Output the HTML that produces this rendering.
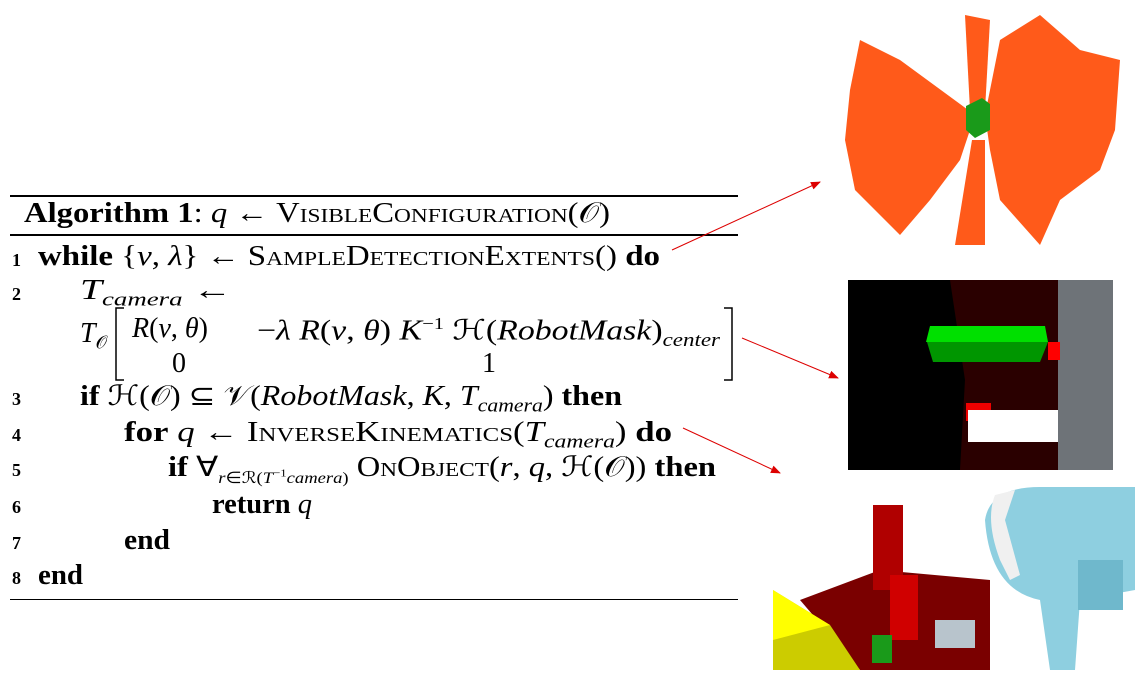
<!DOCTYPE html>
<html><head><meta charset="utf-8"><style>
body{margin:0;width:1139px;height:676px;background:#fff;position:relative;overflow:hidden;font-family:"Liberation Serif",serif;color:#000}
.t{position:absolute;font-size:28px;white-space:nowrap;line-height:1;transform-origin:0 0}
.n{position:absolute;font-size:18px;font-weight:bold;left:12px}
b{font-weight:bold}
i{font-style:italic}
.sc{font-variant:small-caps}
.rule{position:absolute;left:10px;width:728px;background:#000}
</style></head><body>
<div class="rule" style="top:195px;height:2px"></div>
<div class="rule" style="top:234px;height:2px"></div>
<div class="rule" style="top:599px;height:1px"></div>
<div class="t" data-w="610" style="left:24px;top:200px"><b>Algorithm 1</b>: <i>q</i> ← <span class="sc">VisibleConfiguration</span>(𝒪)</div>

<div class="n" style="top:250px">1</div>
<div class="t" data-w="660" style="left:38px;top:243px"><b>while</b> {<i>v</i>, <i>λ</i>} ← <span class="sc">SampleDetectionExtents</span>() <b>do</b></div>
<div class="n" style="top:284px">2</div>
<div class="t" data-w="232" style="left:80px;top:277px"><i>T<sub style="font-size:19px">camera</sub></i> ←</div>
<div class="t" style="left:80px;top:320px"><i>T</i><sub style="font-size:18px">𝒪</sub></div>
<svg style="position:absolute;left:0;top:0" width="740" height="400">
<path d="M124 308 H116 V380 H124" fill="none" stroke="#000" stroke-width="1.5"/>
<path d="M724 308 H732 V380 H724" fill="none" stroke="#000" stroke-width="1.5"/>
</svg>
<div class="t" style="left:132px;top:315px"><i>R</i>(<i>v</i>, <i>θ</i>)</div>
<div class="t" data-w="720" style="left:257px;top:315px">−<i>λ R</i>(<i>v</i>, <i>θ</i>) <i>K</i><sup style="font-size:17px">−1</sup> ℋ(<i>RobotMask</i>)<sub style="font-size:19px"><i>center</i></sub></div>
<div class="t" style="left:172px;top:350px">0</div>
<div class="t" style="left:482px;top:350px">1</div>
<div class="n" style="top:389px">3</div>
<div class="t" data-w="622" style="left:80px;top:383px"><b>if</b> ℋ(𝒪) ⊆ 𝒱(<i>RobotMask</i>, <i>K</i>, <i>T<sub style="font-size:19px">camera</sub></i>) <b>then</b></div>
<div class="n" style="top:425px">4</div>
<div class="t" data-w="672" style="left:124px;top:419px"><b>for</b> <i>q</i> ← <span class="sc">InverseKinematics</span>(<i>T<sub style="font-size:19px">camera</sub></i>) <b>do</b></div>
<div class="n" style="top:460px">5</div>
<div class="t" data-w="716" style="left:168px;top:454px"><b>if</b> ∀<sub style="font-size:16px"><i>r</i>∈ℛ(<i>T</i><sup style="font-size:11px">−1</sup><i>camera</i>)</sub> <span class="sc">OnObject</span>(<i>r</i>, <i>q</i>, ℋ(𝒪)) <b>then</b></div>
<div class="n" style="top:497px">6</div>
<div class="t" data-w="312" style="left:212px;top:491px"><b>return</b> <i>q</i></div>
<div class="n" style="top:533px">7</div>
<div class="t" data-w="170" style="left:124px;top:527px"><b>end</b></div>
<div class="n" style="top:568px">8</div>
<div class="t" data-w="83" style="left:38px;top:562px"><b>end</b></div>

<svg style="position:absolute;left:0;top:0" width="1139" height="676">
<defs><marker id="ah" markerWidth="10" markerHeight="8" refX="9" refY="4" orient="auto"><path d="M0 0 L10 4 L0 8z" fill="#d00"/></marker></defs>
<g stroke="#d00" stroke-width="1">
<line x1="672" y1="250" x2="820" y2="182" marker-end="url(#ah)"/>
<line x1="742" y1="338" x2="838" y2="378" marker-end="url(#ah)"/>
<line x1="683" y1="428" x2="780" y2="473" marker-end="url(#ah)"/>
</g>
<g fill="#ff5a1a">
<path d="M975 115 L900 60 L860 40 L850 90 L845 140 L855 190 L900 235 L930 200 L960 160 Z"/>
<path d="M985 115 L1000 40 L1040 15 L1080 50 L1120 60 L1115 130 L1100 170 L1060 200 L1040 245 L1000 200 L990 150 Z"/>
<path d="M970 110 L965 15 L990 20 L985 110 Z"/>
<path d="M972 140 L955 245 L985 245 L985 140 Z"/>
</g>
<polygon points="966,106 982,98 990,104 990,130 975,138 966,130" fill="#1a9a1a"/>
<g>
<rect x="848" y="280" width="265" height="190" fill="#000"/>
<polygon points="950,280 1060,280 1060,470 960,470 965,380" fill="#2a0000"/>
<rect x="1058" y="280" width="55" height="190" fill="#6e7378"/>
<polygon points="927,342 1048,342 1040,362 933,362" fill="#009600"/>
<polygon points="930,326 1045,326 1048,342 926,342" fill="#00e000"/>
<rect x="1048" y="342" width="12" height="18" fill="#f00"/>
<rect x="966" y="403" width="25" height="18" fill="#e00"/>
<rect x="968" y="410" width="90" height="32" fill="#fff"/>
</g>
<g>
<rect x="773" y="487" width="366" height="183" fill="#fff"/>
<polygon points="800,600 880,570 990,580 990,670 860,670" fill="#7a0000"/>
<polygon points="773,590 830,625 860,670 773,670" fill="#cccc00"/>
<polygon points="773,590 830,625 773,640" fill="#ffff00"/>
<rect x="873" y="505" width="30" height="85" fill="#b00000"/>
<rect x="890" y="575" width="28" height="65" fill="#d00000"/>
<rect x="872" y="635" width="20" height="28" fill="#1a9a1a"/>
<rect x="935" y="620" width="40" height="28" fill="#b8c4cc"/>
<path d="M985 520 Q990 487 1040 487 L1135 487 L1135 590 L1080 600 L1075 670 L1050 670 L1040 600 Q990 590 985 520Z" fill="#8ecfe0"/>
<path d="M995 495 Q985 520 1000 560 L1010 580 L1020 575 L1005 520 L1015 490Z" fill="#f0f0f0"/>
<rect x="1078" y="560" width="45" height="50" fill="#6fb8cc"/>
</g>
</svg>
<script>
document.querySelectorAll('.t[data-w]').forEach(function(el){
  var target=+el.getAttribute('data-w')-el.offsetLeft;
  var w=el.getBoundingClientRect().width;
  if(w>0) el.style.transform='scaleX('+(target/w)+')';
});
</script>
</body></html>
